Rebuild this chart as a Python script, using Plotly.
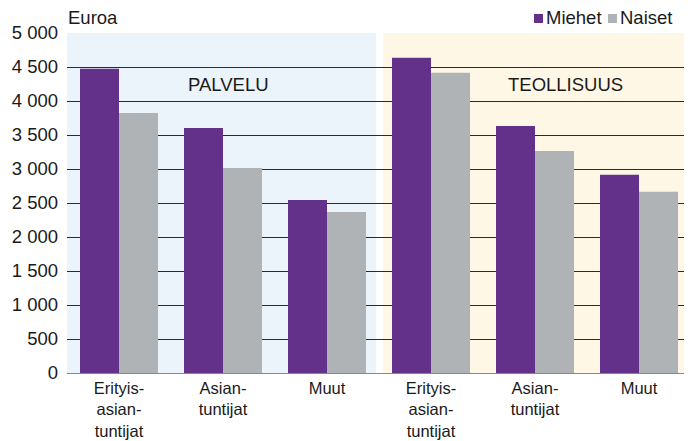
import plotly.graph_objects as go

categories = ["Erityis-<br>asian-<br>tuntijat", "Asian-<br>tuntijat", "Muut",
              "Erityis-<br>asian-<br>tuntijat", "Asian-<br>tuntijat", "Muut"]
miehet = [4473, 3604, 2544, 4635, 3633, 2915]
naiset = [3825, 3015, 2367, 4414, 3265, 2664]
y_ticks = [0, 500, 1000, 1500, 2000, 2500, 3000, 3500, 4000, 4500, 5000]
y_ticktext = ["0", "500", "1 000", "1 500", "2 000", "2 500", "3 000", "3 500", "4 000", "4 500", "5 000"]
sectors = ["PALVELU", "TEOLLISUUS"]

PURPLE = "#64318A"
GRAY = "#B0B3B5"
TXT = "#1a1a1a"
FONT = "Liberation Sans, Arial, sans-serif"
FS = 18.5

xs = list(range(len(categories)))

fig = go.Figure()
fig.add_trace(go.Bar(x=xs, y=miehet, name="Miehet", marker=dict(color=PURPLE, line=dict(width=0))))
fig.add_trace(go.Bar(x=xs, y=naiset, name="Naiset", marker=dict(color=GRAY, line=dict(width=0))))

# sector background panels
fig.add_shape(type="rect", xref="x", yref="y", x0=-0.5, x1=2.47, y0=0, y1=5000,
              fillcolor="#EBF3FB", line=dict(width=0), layer="below")
fig.add_shape(type="rect", xref="x", yref="y", x0=2.54, x1=5.5, y0=0, y1=5000,
              fillcolor="#FEF7E6", line=dict(width=0), layer="below")

# sector labels
fig.add_annotation(x=1.05, y=4240, xref="x", yref="y", text=sectors[0], showarrow=False,
                   font=dict(family=FONT, size=FS, color=TXT))
fig.add_annotation(x=4.29, y=4240, xref="x", yref="y", text=sectors[1], showarrow=False,
                   font=dict(family=FONT, size=FS, color=TXT))

# helpers: page pixel -> paper coords (plot area spans page x 67..691, y 33..373)
def px_x(p):
    return (p - 67) / 624.0

def px_y(p):
    return (373 - p) / 340.0

# unit label
fig.add_annotation(x=px_x(66), y=px_y(18), xref="paper", yref="paper", xanchor="left", yanchor="middle",
                   text="Euroa", showarrow=False, font=dict(family=FONT, size=FS, color=TXT))

# legend (custom, compact)
for name, color, sq_left in [("Miehet", PURPLE, 534), ("Naiset", GRAY, 608)]:
    fig.add_shape(type="rect", xref="paper", yref="paper",
                  x0=px_x(sq_left), x1=px_x(sq_left + 9), y0=px_y(23), y1=px_y(14),
                  fillcolor=color, line=dict(width=0))
    fig.add_annotation(x=px_x(sq_left + 10), y=px_y(18), xref="paper", yref="paper",
                       xanchor="left", yanchor="middle", text=name, showarrow=False,
                       font=dict(family=FONT, size=FS, color=TXT))

# page has an 8px body margin, so the figure is sized/margined to compensate
fig.update_layout(
    width=684, height=433,
    margin=dict(l=59, r=1, t=25, b=68),
    paper_bgcolor="white", plot_bgcolor="white",
    barmode="group", bargap=0.25, bargroupgap=0,
    showlegend=False,
    font=dict(family=FONT, size=FS, color=TXT),
)
fig.update_xaxes(range=[-0.5, 5.5], tickvals=xs, ticktext=categories, automargin=False,
                 showgrid=False, zeroline=False, showline=True, linecolor="#888888", linewidth=1,
                 ticks="", ticklabelstandoff=0,
                 tickfont=dict(family=FONT, size=16.5, color=TXT), fixedrange=True)
fig.update_yaxes(range=[0, 5000], tickvals=y_ticks, ticktext=y_ticktext, automargin=False,
                 showgrid=True, gridcolor="#2b2b2b", gridwidth=1,
                 zeroline=False, showline=False, ticks="", ticklabelstandoff=8,
                 tickfont=dict(family=FONT, size=FS, color=TXT), fixedrange=True)

fig.write_html("out.html")
